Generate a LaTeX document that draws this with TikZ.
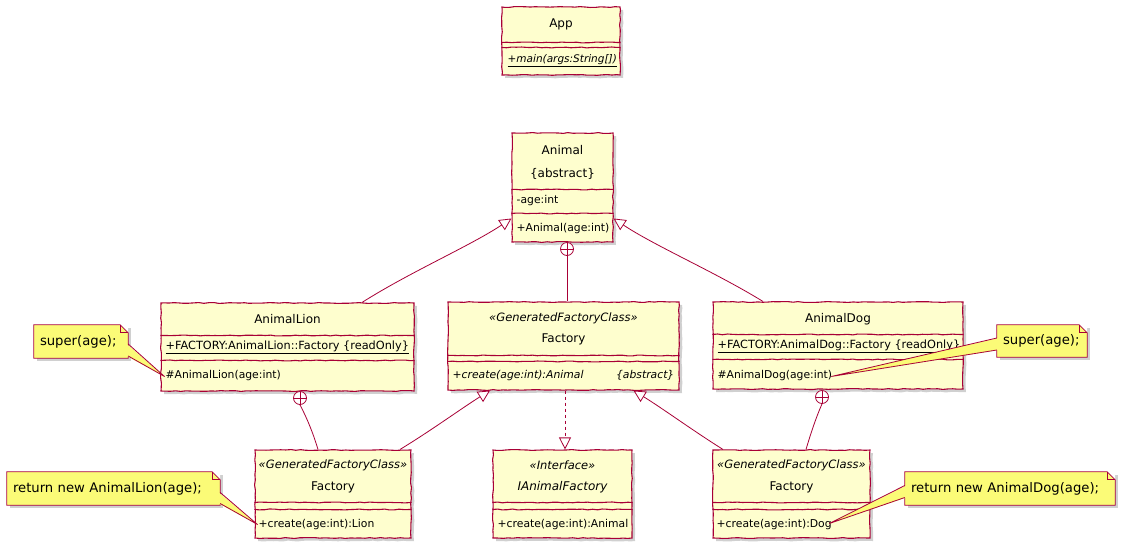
\documentclass[tikz,border=0pt]{standalone}
\usepackage{fontspec}
\setmainfont{DejaVu Sans}
\usetikzlibrary{calc,arrows.meta,shadows,decorations.pathmorphing}
\definecolor{umlred}{HTML}{A80036}
\definecolor{classfill}{HTML}{FEFECE}
\definecolor{notefill}{HTML}{FBFB77}

\tikzset{
  wobble/.style={decorate, decoration={random steps, segment length=5pt, amplitude=0.45pt}},
  softshadow/.style={drop shadow={shadow xshift=3pt, shadow yshift=-3pt, opacity=0.3, fill=black!60}},
  classbox/.style={rectangle, draw=umlred, line width=1.1pt, fill=classfill, inner sep=0pt, wobble, softshadow},
  sepline/.style={draw=umlred, line width=1.1pt, wobble},
  classname/.style={font=\fontsize{12}{14}\selectfont, inner sep=0pt},
  stereo/.style={font=\fontsize{11.5}{13}\selectfont\itshape, inner sep=0pt},
  member/.style={font=\fontsize{10.8}{13}\selectfont, inner sep=0pt, anchor=west},
  widemember/.style={member, font=\fontsize{11.3}{13}\selectfont},
  notebox/.style={rectangle, fill=notefill, inner xsep=6pt, inner ysep=0pt, align=left,
    font=\fontsize{13.2}{15}\selectfont, softshadow},
  noteline/.style={draw=umlred, line width=0.8pt},
  conn/.style={draw=umlred, line width=0.8pt},
  extends/.style={conn, -{Triangle[length=12pt, width=12pt, fill=white]}},
  nested/.style={circle, draw=umlred, fill=white, line width=0.8pt, minimum size=13pt, inner sep=0pt,
    path picture={\draw[umlred, line width=0.8pt]
      (path picture bounding box.north) -- (path picture bounding box.south)
      (path picture bounding box.west) -- (path picture bounding box.east);}},
}

% horizontal compartment separator, #2 points below the top edge of box #1
\newcommand\sepat[2]{\draw[sepline] ($(#1.north west)+(0,#2)$) -- ($(#1.north east)+(0,#2)$);}

% note with folded corner: #1 node name
\newcommand\notecorner[1]{%
  \fill[white] ([xshift=-8pt]#1.north east) -- (#1.north east) -- ([yshift=-8pt]#1.north east) -- cycle;
  \draw[noteline] (#1.north west) -- ([xshift=-8pt]#1.north east) -- ([yshift=-8pt]#1.north east)
    -- (#1.south east) -- (#1.south west) -- cycle;
  \draw[noteline] ([xshift=-8pt]#1.north east) |- ([yshift=-8pt]#1.north east);}

% pointer from note edge points #1, #2 to tip #3 (base pushed #4 into the note)
\newcommand\notepointer[4]{%
  \fill[notefill] ($(#1)+(#4,0)$) -- (#3) -- ($(#2)+(#4,0)$) -- cycle;
  \draw[noteline, line join=round] (#1) -- (#3) -- (#2);}

\begin{document}
\pgfmathsetseed{7}
\begin{tikzpicture}[x=1pt, y=-1pt]
\useasboundingbox (0,0) rectangle (1126,547);
\fill[white] (0,0) rectangle (1126,547);

% ---------- App ----------
\node[classbox, minimum width=118pt, minimum height=68pt] (app) at (561,41) {};
\sepat{app}{36}
\sepat{app}{41}
\node[classname] at ($(app.north)+(0,18)$) {App};
\node[member, font=\fontsize{10.5}{13}\selectfont] at ($(app.north west)+(6,54)$) {\underline{\textit{+main(args:String[])}}};

% ---------- Animal ----------
\node[classbox, minimum width=101pt, minimum height=109pt] (animal) at (562.5,187.5) {};
\node[classname] at ($(animal.north)+(0,18)$) {Animal};
\node[classname] at ($(animal.north)+(0,41)$) {\{abstract\}};
\sepat{animal}{57}
\node[member] at ($(animal.north west)+(5,68)$) {-age:int};
\sepat{animal}{81}
\node[member] at ($(animal.north west)+(5,96)$) {+Animal(age:int)};

% ---------- AnimalLion ----------
\node[classbox, minimum width=253pt, minimum height=88pt] (lion) at (287.5,347) {};
\node[classname] at ($(lion.north)+(0,17)$) {AnimalLion};
\sepat{lion}{33}
\node[widemember] at ($(lion.north west)+(5,45)$) {\underline{+FACTORY:AnimalLion::Factory \{readOnly\}}};
\sepat{lion}{58}
\node[member] at ($(lion.north west)+(5,73)$) {\#AnimalLion(age:int)};

% ---------- Factory (abstract) ----------
\node[classbox, minimum width=231pt, minimum height=88pt] (fact) at (563.5,346) {};
\node[stereo] at ($(fact.north)+(0,17)$) {«GeneratedFactoryClass»};
\node[classname] at ($(fact.north)+(0,38)$) {Factory};
\sepat{fact}{54}
\sepat{fact}{60}
\node[member] at ($(fact.north west)+(5,74)$) {\textit{+create(age:int):Animal}};
\node[member, anchor=east] at ($(fact.north east)+(-5,74)$) {\textit{\{abstract\}}};

% ---------- AnimalDog ----------
\node[classbox, minimum width=250pt, minimum height=87pt] (dog) at (838,345.5) {};
\node[classname] at ($(dog.north)+(0,18)$) {AnimalDog};
\sepat{dog}{33}
\node[widemember] at ($(dog.north west)+(5,45)$) {\underline{+FACTORY:AnimalDog::Factory \{readOnly\}}};
\sepat{dog}{58}
\node[member] at ($(dog.north west)+(5,74)$) {\#AnimalDog(age:int)};

% ---------- AnimalLion.Factory ----------
\node[classbox, minimum width=156pt, minimum height=88pt] (lionf) at (333,494) {};
\node[stereo] at ($(lionf.north)+(0,16)$) {«GeneratedFactoryClass»};
\node[classname] at ($(lionf.north)+(0,38)$) {Factory};
\sepat{lionf}{53}
\sepat{lionf}{60}
\node[member] at ($(lionf.north west)+(4,75)$) {+create(age:int):Lion};

% ---------- IAnimalFactory ----------
\node[classbox, minimum width=139pt, minimum height=88pt] (iaf) at (562.5,494) {};
\node[stereo] at ($(iaf.north)+(0,16)$) {«Interface»};
\node[classname, font=\fontsize{12}{14}\selectfont\itshape] at ($(iaf.north)+(0,38)$) {IAnimalFactory};
\sepat{iaf}{53}
\sepat{iaf}{60}
\node[member] at ($(iaf.north west)+(5,75)$) {+create(age:int):Animal};

% ---------- AnimalDog.Factory ----------
\node[classbox, minimum width=157pt, minimum height=88pt] (dogf) at (791.5,494) {};
\node[stereo] at ($(dogf.north)+(0,16)$) {«GeneratedFactoryClass»};
\node[classname] at ($(dogf.north)+(0,38)$) {Factory};
\sepat{dogf}{53}
\sepat{dogf}{60}
\node[member] at ($(dogf.north west)+(4,75)$) {+create(age:int):Dog};

% ---------- generalisations ----------
\draw[extends] ([xshift=74.5pt]lion.north) .. controls (410,272) and (470,246) .. ([yshift=-31pt]animal.west);
\draw[extends] ([xshift=-75pt]dog.north) .. controls (715,272) and (655,246) .. ([yshift=-31pt]animal.east);
\draw[extends] ([xshift=67pt]lionf.north) .. controls (432,430) and (462,408) .. ([xshift=-73.5pt]fact.south);
\draw[extends] ([xshift=-68.5pt]dogf.north) .. controls (692,430) and (662,408) .. ([xshift=70pt]fact.south);
\draw[extends, dashed] ([xshift=1.5pt]fact.south) -- ([xshift=2.5pt]iaf.north);

% ---------- nesting ----------
\node[nested] (pA) at (567,249) {};
\node[nested] (pL) at (300,398) {};
\node[nested] (pD) at (822,397) {};
\draw[conn] (pA.south) -- (pA.south |- fact.north);
\draw[conn] (pL.south) .. controls (308,420) and (314,436) .. ([xshift=-15pt]lionf.north);
\draw[conn] (pD.south) .. controls (815,420) and (810,436) .. ([xshift=14.5pt]dogf.north);

% ---------- notes ----------
\node[notebox, minimum width=94pt, minimum height=33pt, text width=82pt] (n1) at (81,341.5) {super(age);};
\notecorner{n1}
\node[notebox, minimum width=90pt, minimum height=32pt, text width=78pt] (n2) at (1042,341) {super(age);};
\notecorner{n2}
\node[notebox, minimum width=213pt, minimum height=33pt, text width=201pt] (n3) at (113.5,488.5) {return new AnimalLion(age);};
\notecorner{n3}
\node[notebox, minimum width=210pt, minimum height=33pt, text width=198pt] (n4) at (1010,488.5) {return new AnimalDog(age);};
\notecorner{n4}

% note anchors on the commented members
\coordinate (t1) at ([shift={(4,74)}]lion.north west);
\coordinate (t2) at ([shift={(119,75)}]dog.north west);
\coordinate (t3) at ([shift={(3,75)}]lionf.north west);
\coordinate (t4) at ([shift={(117,74)}]dogf.north west);
\coordinate (b1a) at ([shift={(0,2.5)}]n1.east);
\coordinate (b1b) at ([shift={(0,14.5)}]n1.east);
\coordinate (b2a) at ([shift={(0,-3)}]n2.west);
\coordinate (b2b) at ([shift={(0,9)}]n2.west);
\coordinate (b3a) at ([shift={(0,4)}]n3.east);
\coordinate (b3b) at ([shift={(0,15)}]n3.east);
\coordinate (b4a) at ([shift={(0,-3)}]n4.west);
\coordinate (b4b) at ([shift={(0,9)}]n4.west);
\notepointer{b1a}{b1b}{t1}{-1.5}
\notepointer{b2a}{b2b}{t2}{1.5}
\notepointer{b3a}{b3b}{t3}{-1.5}
\notepointer{b4a}{b4b}{t4}{1.5}
\end{tikzpicture}
\end{document}
